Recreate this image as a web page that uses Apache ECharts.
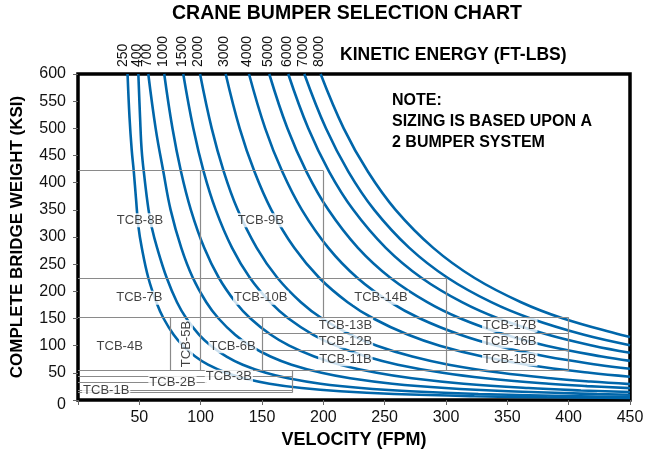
<!DOCTYPE html>
<html><head><meta charset="utf-8">
<script src="https://cdn.jsdelivr.net/npm/echarts@6/dist/echarts.min.js"></script>
<style>html,body{margin:0;padding:0;background:#fff}#c{width:645px;height:454px}</style>
</head><body><div id="c"></div>
<script>
// ---- data ----
const energyLabels = ['250','400','700','1000','1500','2000','3000','4000','5000','6000','7000','8000'];
const curve250  = [[40.4,600],[42.0,520],[43.8,460],[45.5,420],[47.3,370],[49.2,320],[52.0,280],[57.3,225],[64.2,178],[69.8,150],[78.0,120],[85.5,100],[95.6,80],[106.0,65],[120.9,50],[135.2,40],[156.1,30],[182.3,22],[213.7,16],[257.7,11],[323.1,7],[382.3,5],[450,3.6]];
const curve400  = [[49.2,600],[50.6,520],[51.9,460],[54.1,411],[57.5,350],[60.0,319],[64.5,280],[72.3,225],[80.7,180],[88.4,150],[98.8,120],[108.3,100],[121.1,80],[134.3,65],[153.1,50],[171.2,40],[197.7,30],[230.8,22],[270.7,16],[326.4,11],[409.2,7],[450,5.8]];
const curve700  = [[57.3,600],[63.3,500],[69.6,420],[75.5,350],[84.2,280],[93.6,225],[104.6,180],[114.6,150],[128.1,120],[140.3,100],[156.9,80],[174.1,65],[198.5,50],[221.9,40],[256.2,30],[299.2,22],[350.9,16],[423.2,11],[450,9.7]];
const curve1000 = [[70.3,600],[77.0,500],[84.0,420],[92.0,350],[102.9,280],[114.8,225],[128.4,180],[140.6,150],[157.2,120],[172.2,100],[192.6,80],[213.6,65],[243.5,50],[272.3,40],[314.4,30],[367.1,22],[410,17.6],[450,14.6]];
const curve1500 = [[85.8,600],[94.0,500],[102.5,420],[112.3,350],[125.6,280],[140.1,225],[156.7,180],[171.6,150],[191.8,120],[210.1,100],[235.0,80],[260.7,65],[297.2,50],[332.3,40],[383.7,30],[415,25.6],[450,21.8]];
const curve2000 = [[99.5,600],[109.0,500],[118.9,420],[130.2,350],[145.7,280],[162.5,225],[181.7,180],[199.0,150],[222.5,120],[243.7,100],[272.5,80],[302.3,65],[344.7,50],[385.4,40],[418,34.0],[450,29.3]];
const curve3000 = [[120.4,600],[131.8,500],[143.9,420],[157.6,350],[176.3,280],[196.6,225],[219.8,180],[240.8,150],[269.2,120],[294.9,100],[329.8,80],[365.8,65],[417.1,50],[450,42.9]];
const curve4000 = [[139.4,600],[152.6,500],[166.6,420],[182.5,350],[204.1,280],[227.6,225],[254.5,180],[278.8,150],[311.7,120],[341.4,100],[381.8,80],[423.5,65],[450,57.6]];
const curve5000 = [[155.9,600],[170.7,500],[186.3,420],[204.1,350],[228.2,280],[254.6,225],[284.7,180],[311.8,150],[348.6,120],[381.8,100],[427.0,80],[450,72.0]];
const curve6000 = [[171.4,600],[187.7,500],[204.8,420],[224.4,350],[250.9,280],[279.9,225],[313.0,180],[342.8,150],[383.3,120],[419.8,100],[450,87.0]];
const curve7000 = [[184.5,600],[202.1,500],[220.5,420],[241.5,350],[270.1,280],[301.3,225],[336.9,180],[369.0,150],[412.5,120],[450,100.9]];
const curve8000 = [[197.8,600],[216.6,500],[236.4,420],[258.9,350],[289.6,280],[323.0,225],[361.2,180],[395.6,150],[442.3,120],[450,115.9]];
const curves = [curve250,curve400,curve700,curve1000,curve1500,curve2000,curve3000,curve4000,curve5000,curve6000,curve7000,curve8000];

// selection boxes: [v0, W0, v1, W1]
const boxLines = [
  [0,422,200,422],[0,225,300,225],[0,152,400,152],[150,123,400,123],[150,92,400,92],
  [0,54,400,54],[0,43,175,43],[0,33,105,33],[0,18,175,18],[0,14,175,14],
  [100,54,100,422],[200,152,200,422],[300,54,300,225],[400,54,400,152],
  [150,54,150,152],[75,54,75,152],[175,14,175,54]
];
const tcbNames = ['TCB-1B','TCB-2B','TCB-3B','TCB-4B','TCB-5B','TCB-6B','TCB-7B','TCB-8B','TCB-9B','TCB-10B','TCB-11B','TCB-12B','TCB-13B','TCB-14B','TCB-15B','TCB-16B','TCB-17B'];
const tcbV = [23,77,123,34,88,126,50,50.5,149,149,218,218,218,247,352,352,352];
const tcbW = [18.4,32.5,43,99,103,99,188,331,331,188,75,108,138,188,75,108,138];
const noteLines = ['NOTE:','SIZING IS BASED UPON A','2 BUMPER SYSTEM'];

// ---- chart ----
const FONT = '"Liberation Sans", Arial, Helvetica, sans-serif';
const BLUE = '#0066aa';
const chart = echarts.init(document.getElementById('c'));

const series = [];
series.push({
  type:'line', data:[], z:1, silent:true, animation:false,
  markLine:{silent:true, animation:false, symbol:['none','none'], label:{show:false},
    lineStyle:{color:'#8a8a8a', width:1.2, type:'solid'}, emphasis:{disabled:true},
    data: boxLines.map(s=>[{coord:[s[0],s[1]]},{coord:[s[2],s[3]]}])}
});
curves.forEach((c,i)=>series.push({
  type:'line', name:energyLabels[i], data:c, smooth:0.4, showSymbol:false, symbol:'none',
  lineStyle:{color:BLUE, width:2.6}, z:3, silent:true, clip:true, animation:false
}));
series.push({
  type:'scatter', z:6, symbolSize:1, itemStyle:{color:'rgba(0,0,0,0)'}, silent:true, animation:false,
  data: tcbNames.map((n,i)=>({value:[tcbV[i],tcbW[i]], label:{show:true, position:'inside', formatter:n,
    rotate: n==='TCB-5B'?90:0, fontSize:13, color:'#111', fontFamily:FONT, backgroundColor:'#fff', padding:[1,1,0,1]}}))
});

const graphics = [
  {type:'text', x:347, y:14, style:{text:'CRANE BUMPER SELECTION CHART', fontSize:19.5, fontWeight:'bold', fontFamily:FONT, fill:'#000', align:'center', verticalAlign:'middle'}},
  {type:'text', x:340, y:55, style:{text:'KINETIC ENERGY (FT-LBS)', fontSize:17.5, fontWeight:'bold', fontFamily:FONT, fill:'#000', align:'left', verticalAlign:'middle'}}
];
noteLines.forEach((t,i)=>graphics.push({type:'text', x:392, y:101+i*21, style:{text:t, fontSize:16, fontWeight:'bold', fontFamily:FONT, fill:'#000', align:'left', verticalAlign:'middle'}}));

chart.setOption({
  animation:false,
  backgroundColor:'#fff',
  grid:{left:78, right:15, top:74, bottom:54, outerBoundsMode:'none', containLabel:false, show:true, borderColor:'#000', borderWidth:3.5, backgroundColor:'transparent'},
  xAxis:{type:'value', min:0, max:450, interval:50,
    axisLine:{show:false}, axisTick:{show:true, length:5, lineStyle:{color:'#666'}}, splitLine:{show:false},
    axisLabel:{fontSize:16, color:'#111', margin:10, fontFamily:FONT, formatter:v=>v===0?'':String(v)},
    name:'VELOCITY (FPM)', nameLocation:'middle', nameGap:31,
    nameTextStyle:{fontSize:18, fontWeight:'bold', color:'#000', fontFamily:FONT}},
  yAxis:{type:'value', min:0, max:600, interval:50,
    axisLine:{show:false}, axisTick:{show:true, length:5, lineStyle:{color:'#666'}}, splitLine:{show:false},
    axisLabel:{fontSize:16, color:'#111', margin:12, fontFamily:FONT,
      formatter:v=>v===0?'{z|0}':String(v), rich:{z:{fontSize:16, color:'#111', fontFamily:FONT, padding:[10,0,0,0]}}},
    name:'COMPLETE BRIDGE WEIGHT (KSI)', nameLocation:'middle', nameGap:52,
    nameTextStyle:{fontSize:17, fontWeight:'bold', color:'#000', fontFamily:FONT}},
  graphic: graphics,
  series: series
});

// energy labels above each curve's top end
const topLabels = curves.map((c,i)=>{
  const p = chart.convertToPixel({gridIndex:0}, [c[0][0], 600]);
  return {type:'text', x:p[0]-(i===0?4:1.5), y:67, rotation:Math.PI/2,
    style:{text:energyLabels[i], fontSize:14, fontFamily:FONT, fill:'#111', align:'left', verticalAlign:'middle'}};
});
chart.setOption({graphic: graphics.concat(topLabels)});
</script></body></html>
